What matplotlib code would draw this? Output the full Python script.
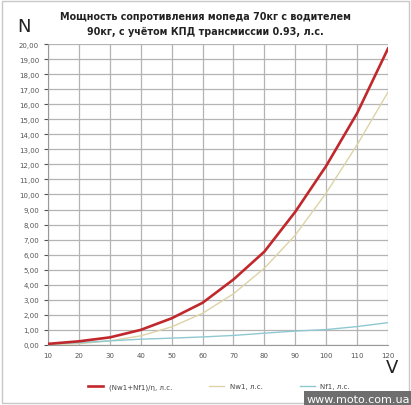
import matplotlib
matplotlib.use("Agg")
import matplotlib.pyplot as plt
from matplotlib.patches import Rectangle

# speed, km/h
speed = [10, 20, 30, 40, 50, 60, 70, 80, 90, 100, 110, 120]
# (Nw1+Nf1)/eta, hp
n_total = [0.07, 0.24, 0.50, 1.00, 1.77, 2.80, 4.35, 6.20, 8.85, 11.90, 15.40, 19.70]
# Nw1, hp
n_air = [0.02, 0.08, 0.27, 0.60, 1.20, 2.10, 3.40, 5.10, 7.30, 10.10, 13.30, 16.80]
# Nf1, hp
n_roll = [0.05, 0.15, 0.27, 0.38, 0.45, 0.53, 0.63, 0.78, 0.92, 1.02, 1.22, 1.48]

y_ticks = list(range(0, 21))
y_labels = ["%d,00" % v for v in y_ticks]

title = "Мощность сопротивления мопеда 70кг с водителем\n90кг, с учётом КПД трансмиссии 0.93, л.с."

fig = plt.figure(figsize=(4.11, 4.06), dpi=100)
ax = fig.add_axes([0.117, 0.148, 0.827, 0.741])

ax.plot(speed, n_total, color="#c0282c", lw=1.9, label="(Nw1+Nf1)/η, л.с.", zorder=5)
ax.plot(speed, n_air, color="#dcd3a6", lw=1.0, label="Nw1, л.с.", zorder=4)
ax.plot(speed, n_roll, color="#8ec9d2", lw=1.0, label="Nf1, л.с.", zorder=4)

ax.set_xlim(10, 120)
ax.set_ylim(0, 20)
ax.set_xticks(speed)
ax.set_yticks(y_ticks)
ax.set_yticklabels(y_labels)
ax.grid(True, color="#b4b4b4", lw=0.9)
ax.tick_params(axis="both", labelsize=5, colors="#555555", length=3, width=0.8)
ax.tick_params(axis="x", length=0, pad=5)
for s in ["top", "right"]:
    ax.spines[s].set_visible(False)
for s in ["left", "bottom"]:
    ax.spines[s].set_color("#999999")

fig.text(0.5, 0.94, title, ha="center", va="center", fontsize=6.9,
         fontweight="bold", color="#222222", linespacing=1.55)
fig.text(0.058, 0.933, "N", ha="center", va="center", fontsize=13, color="#222222")
fig.text(0.955, 0.094, "V", ha="center", va="center", fontsize=13, color="#222222")

fig.legend(loc="center", bbox_to_anchor=(0.533, 0.045), ncol=3, frameon=False,
           fontsize=5, handlelength=2.2, columnspacing=5.3, labelcolor="#444444")

# outer chart border
fig.patches.append(Rectangle((0.004, 0.004), 0.992, 0.992, transform=fig.transFigure,
                             fill=False, ec="#c8c8c8", lw=1.0))
fig.text(0.998, 0.003, "www.moto.com.ua", ha="right", va="bottom", fontsize=8,
         color="white", bbox=dict(boxstyle="square,pad=0.25", fc="#6e6e6e", ec="none"))

fig.savefig("out.png", dpi=100)
